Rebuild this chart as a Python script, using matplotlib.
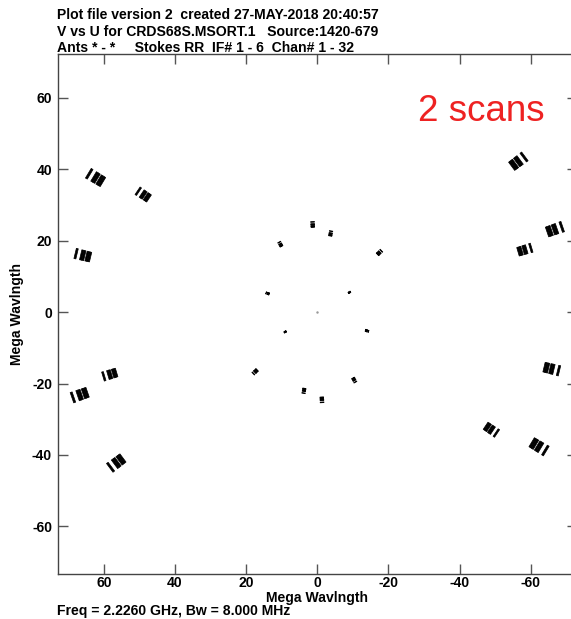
import numpy as np
import matplotlib
matplotlib.use("Agg")
import matplotlib.pyplot as plt
from matplotlib.collections import PolyCollection

# Baseline (u, v) at the highest IF frequency, in mega-wavelengths.
# Each baseline is also plotted at its conjugate point (-u, -v).
base_u = [64.2, 50.4, 67.9, -58.2, -68.8, -60.1,
          1.34, -3.87, 10.7, -18.0, 14.4, -9.3]
base_v = [38.8, 33.9, 16.4, 43.5, 23.9, 18.0,
          25.3, 22.7, 19.6, 17.2, 5.4, 5.7]

# Band edges of IF 1-6, as a fraction of the highest observed frequency.
if_lo = [0.995, 0.971, 0.963, 0.951, 0.945, 0.939]
if_hi = [1.003, 0.980, 0.971, 0.958, 0.951, 0.945]

# Hour-angle rotation (degrees) of the uv track spanned by the 2 scans.
track_deg = [-1.2, 1.2]

tick_vals = [-60, -40, -20, 0, 20, 40, 60]

header = ["Plot file version 2  created 27-MAY-2018 20:40:57",
          "V vs U for CRDS68S.MSORT.1   Source:1420-679",
          "Ants * - *     Stokes RR  IF# 1 - 6  Chan# 1 - 32"]
footer = "Freq = 2.2260 GHz, Bw = 8.000 MHz"
axis_label = "Mega Wavlngth"
note = "2 scans"

plt.rcParams['font.family'] = ['Liberation Sans', 'DejaVu Sans']
FS = 10.1

fig = plt.figure(figsize=(5.71, 6.19), dpi=100)
ax = fig.add_axes([0.101, 0.0735, 0.9094, 0.8393])


def rot(u, v, deg):
    t = np.deg2rad(deg)
    return (u * np.cos(t) - v * np.sin(t), u * np.sin(t) + v * np.cos(t))


polys = []
for u0, v0 in zip(base_u, base_v):
    for sign in (1, -1):
        u, v = sign * u0, sign * v0
        for lo, hi in zip(if_lo, if_hi):
            a0, a1 = track_deg
            corners = [rot(u * lo, v * lo, a0), rot(u * hi, v * hi, a0),
                       rot(u * hi, v * hi, a1), rot(u * lo, v * lo, a1)]
            polys.append(corners)

pc = PolyCollection(polys, facecolors='black', edgecolors='black',
                    linewidths=0.5)
ax.add_collection(pc)
# zero-spacing point
ax.plot([0], [0], marker='.', markersize=1.5, color='#999999')

ax.set_xlim(73, -73)
ax.set_ylim(-73.2, 72.3)
ax.set_xticks(tick_vals)
ax.set_yticks(tick_vals)
ax.set_xticklabels([str(t) for t in tick_vals], fontweight='bold', fontsize=FS)
ax.set_yticklabels([str(t) for t in tick_vals], fontweight='bold', fontsize=FS)
ax.tick_params(direction='in', length=7.5, width=1, color='#555555',
               top=True, right=True)
ax.tick_params(axis='x', pad=1.5)
ax.tick_params(axis='y', pad=4)
for s in ax.spines.values():
    s.set_color('#444444')
    s.set_linewidth(1)

ax.set_xlabel(axis_label, fontweight='bold', fontsize=FS)
ax.xaxis.set_label_coords(0.5, -0.033)
ax.set_ylabel(axis_label, fontweight='bold', fontsize=FS)
ax.yaxis.set_label_coords(-0.078, 0.5)
ax.yaxis.label.set_verticalalignment('center')

for i, y in enumerate([15, 31.5, 48]):
    fig.text(57 / 571, 1 - y / 619, header[i], fontweight='bold',
             fontsize=FS, ha='left', va='center')
fig.text(57 / 571, 1 - 611.5 / 619, footer, fontweight='bold', fontsize=FS,
         ha='left', va='center')
ax.text(0.938, 0.89, note, transform=ax.transAxes, color='#ee2222',
        fontsize=26.5, ha='right', va='center')

fig.savefig("out.png", dpi=100)
